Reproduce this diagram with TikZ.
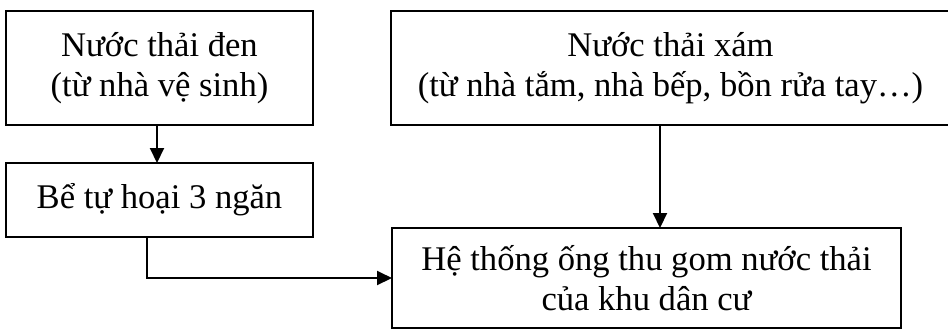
\documentclass[tikz,border=0pt]{standalone}
\usepackage{fontspec}
\setmainfont{Liberation Serif}
\usetikzlibrary{arrows.meta}
\begin{document}
\begin{tikzpicture}[x=0.5pt,y=-0.5pt,
  box/.style={draw, line width=1pt, inner sep=0pt, outer sep=0pt},
  label/.style={font=\fontsize{17.3}{20}\selectfont, align=center, inner sep=0pt},
  arr/.style={line width=1pt, -{Triangle[length=7.5pt,width=7pt]}},
  link/.style={line width=1pt}]
\useasboundingbox (0,0) rectangle (948,329);
\clip (0,0) rectangle (948,329);
% source boxes
\node[box, label, minimum width=153.5pt, minimum height=57pt] (black) at (159.5,68)
  {Nước thải đen\\(từ nhà vệ sinh)};
\node[box, label, minimum width=153.5pt, minimum height=37pt] (tank) at (159.5,200)
  {Bể tự hoại 3 ngăn};
\node[box, label, minimum width=279.5pt, minimum height=57pt] (grey) at (670.5,68)
  {Nước thải xám\\(từ nhà tắm, nhà bếp, bồn rửa tay…)};
% collection system
\node[box, label, minimum width=254.5pt, minimum height=50pt] (sewer) at (646.5,278)
  {Hệ thống ống thu gom nước thải\\của khu dân cư};
% connectors
\draw[arr] (black.south -| 157,0) -- (tank.north -| 157,0);
\draw[arr] (grey.south -| 660,0) -- (sewer.north -| 660,0);
\coordinate (bend) at (147,0 |- sewer.west);
\draw[arr] (tank.south -| bend) -- (bend) -- (sewer.west);
\end{tikzpicture}
\end{document}
